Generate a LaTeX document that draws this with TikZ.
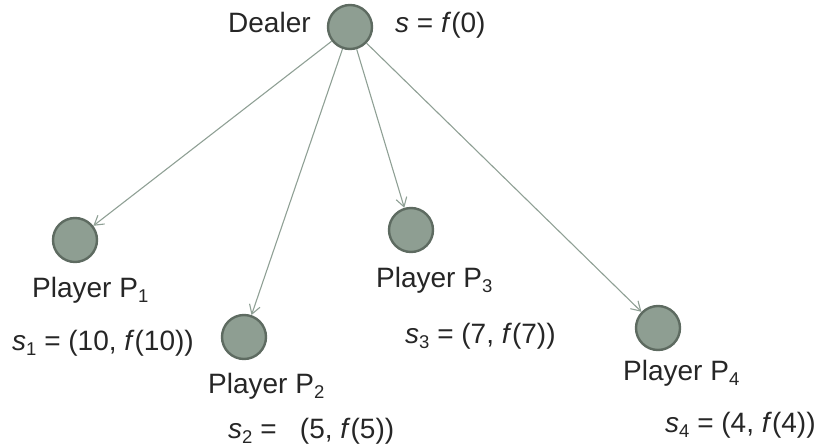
\documentclass[tikz,border=0pt]{standalone}
\usepackage{fontspec}
\setmainfont{Liberation Sans}
\usetikzlibrary{arrows.meta,positioning}
\definecolor{nodefill}{HTML}{8E9E92}
\definecolor{nodeline}{HTML}{5E6B61}
\definecolor{edgecol}{HTML}{8FA095}
\newcommand{\lowidx}[1]{\raisebox{-5pt}{\fontsize{18.5}{20}\selectfont #1}}

\begin{document}
\begin{tikzpicture}[
    x=1pt, y=-1pt,
    every node/.style={font=\fontsize{28}{32}\selectfont, text=black!85},
    party/.style={circle, draw=nodeline, fill=nodefill, line width=2.4pt, minimum size=44pt, inner sep=0pt},
    lab/.style={anchor=base west, inner sep=0pt},
    share/.style={-{Straight Barb[length=9pt,width=11pt]}, edgecol, line width=1.1pt}
  ]
  \useasboundingbox (0,0) rectangle (825,447);
  \node[party] (dealer) at (350,27) {};
  \node[lab] (dlab) at (228,32) {Dealer};
  \node[lab] (slab) at (395,32) {\textit{s} = \textit{f}(0)};
  \foreach \i/\cx/\cy/\px/\py/\sx/\sy/\val in {
    1/75/240/32/297/12/350/{(10, \textit{f}(10))},
    2/244/337/208/393/228/438/{\ \ (5, \textit{f}(5))},
    3/411/230/376/287/405/343/{(7, \textit{f}(7))},
    4/658/328/623/380/665/432/{(4, \textit{f}(4))}
  }{
    \node[party] (p\i) at (\cx,\cy) {};
    \node[lab] (plab\i) at (\px,\py) {Player P\lowidx{\i}};
    \node[lab] (slab\i) at (\sx,\sy) {\textit{s}\lowidx{\i} = \val};
    \draw[share] (dealer) -- (p\i);
  }
\end{tikzpicture}
\end{document}
